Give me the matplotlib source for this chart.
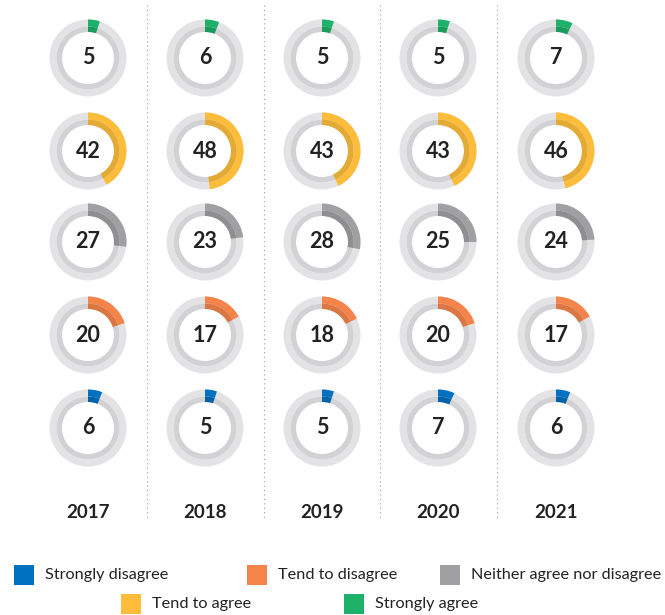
import matplotlib
matplotlib.use('Agg')
import matplotlib.pyplot as plt
from matplotlib.patches import Wedge, Rectangle

plt.rcParams['font.family'] = ['Lato', 'DejaVu Sans']

years = ['2017', '2018', '2019', '2020', '2021']
# rows top to bottom
categories = ['Strongly agree', 'Tend to agree', 'Neither agree nor disagree',
              'Tend to disagree', 'Strongly disagree']
strongly_agree = [5, 6, 5, 5, 7]
tend_agree = [42, 48, 43, 43, 46]
neither = [27, 23, 28, 25, 24]
tend_disagree = [20, 17, 18, 20, 17]
strongly_disagree = [6, 5, 5, 7, 6]
values = [strongly_agree, tend_agree, neither, tend_disagree, strongly_disagree]

colors = ['#1db16a', '#fdbd3a', '#a0a0a2', '#f4844a', '#0071c1']
dark = ['#1a9c5d', '#e4aa33', '#8f8f91', '#dc7642', '#0063a9']

W, H = 665, 615
fig = plt.figure(figsize=(W / 100, H / 100), dpi=100)
ax = fig.add_axes([0, 0, 1, 1])
ax.set_xlim(0, W)
ax.set_ylim(0, H)
ax.axis('off')

col_x = [88, 205, 322, 438, 556]
row_y = [58, 151, 242, 335, 428]
r_out, r_mid, r_in = 38.5, 31.5, 26

for j, yr in enumerate(years):
    cx = col_x[j]
    for i, cat in enumerate(categories):
        cy = H - row_y[i]
        v = values[i][j]
        ax.add_patch(Wedge((cx, cy), r_out, 0, 360, width=r_out - r_mid,
                           facecolor='#e3e3e5', edgecolor='none'))
        ax.add_patch(Wedge((cx, cy), r_mid, 0, 360, width=r_mid - r_in,
                           facecolor='#d2d2d4', edgecolor='none'))
        a1 = 90 - 3.6 * v
        ax.add_patch(Wedge((cx, cy), r_out, a1, 90, width=r_out - r_mid,
                           facecolor=colors[i], edgecolor='none'))
        ax.add_patch(Wedge((cx, cy), r_mid, a1, 90, width=r_mid - r_in,
                           facecolor=dark[i], edgecolor='none'))
        ax.text(cx, cy, str(v), ha='center', va='center', fontsize=15.5,
                fontweight='bold', color='#222222')
    ax.text(cx, H - 512, yr, ha='center', va='center', fontsize=13.5,
            fontweight='bold', color='#222222')

# dotted separators
for x in [147, 264, 380, 497]:
    ax.plot([x, x], [H - 5, H - 518], color='#9a9a9a', lw=0.8,
            linestyle=(0, (1, 3)))

# legend
legend_items = [
    ('Strongly disagree', colors[4], 14, 575),
    ('Tend to disagree', colors[3], 247, 575),
    ('Neither agree nor disagree', colors[2], 440, 575),
    ('Tend to agree', colors[1], 121, 604),
    ('Strongly agree', colors[0], 344, 604),
]
for label, c, x, y in legend_items:
    ax.add_patch(Rectangle((x, H - y - 10), 20, 20, facecolor=c, edgecolor='none'))
    ax.text(x + 31, H - y, label, ha='left', va='center', fontsize=11.7,
            color='#222222')

fig.savefig('out.png', dpi=100)
